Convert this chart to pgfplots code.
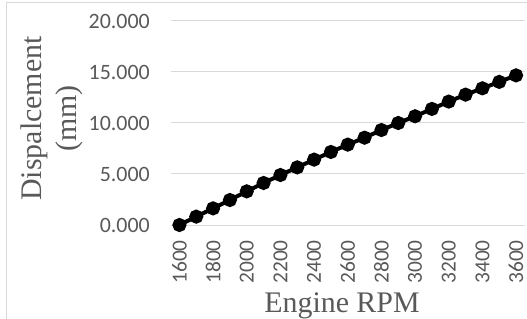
\documentclass[border=0pt]{standalone}
\usepackage{fontspec}
\setmainfont{Carlito}
\newfontfamily\timesf{Liberation Serif}
\usepackage{pgfplots}
\pgfplotsset{compat=1.18}
\definecolor{gridgray}{HTML}{D9D9D9}
\definecolor{txtgray}{HTML}{595959}
\begin{document}
\begin{tikzpicture}
\useasboundingbox (0,0) rectangle (527bp,319bp);
\draw[gridgray, line width=1bp] (6.5bp,-2bp) -- (6.5bp,316bp) -- (530bp,316bp);
\begin{axis}[
  at={(171bp,94bp)}, anchor=south west,
  scale only axis, width=353.5bp, height=204bp,
  xmin=1550, xmax=3650, ymin=0, ymax=20,
  xtick={1600,1800,...,3600},
  ytick={0,5,10,15,20},
  ymajorgrids, major grid style={gridgray, line width=1bp},
  axis line style={draw=none},
  major tick length=0pt,
  /pgf/number format/assume math mode=true,
  xticklabel shift=15bp,
  yticklabel shift=21bp,
  xticklabel style={/pgf/number format/1000 sep={}, rotate=90, anchor=east, inner sep=0pt, font=\fontsize{21.5}{21.5}\selectfont, text=txtgray},
  yticklabel style={/pgf/number format/fixed, /pgf/number format/fixed zerofill, /pgf/number format/precision=3, anchor=east, inner sep=0pt, font=\fontsize{22}{22}\selectfont, text=txtgray},
  xlabel={Engine RPM},
  ylabel={Dispalcement\\(mm)},
  every axis x label/.style={at={(rel axis cs:0.4837,-0.395)}, anchor=center, font=\timesf\fontsize{30}{34}\selectfont, text=txtgray},
  every axis y label/.style={at={(rel axis cs:-0.3366,0.522)}, anchor=center, rotate=90, align=center, font=\timesf\fontsize{30}{35}\selectfont, text=txtgray},
]
\addplot[black, line width=4bp, mark=*, mark size=5bp, mark options={solid, fill=black}] coordinates {
(1600,0) (1700,0.82) (1800,1.63) (1900,2.45) (2000,3.30) (2100,4.12)
(2200,4.90) (2300,5.65) (2400,6.41) (2500,7.16) (2600,7.88) (2700,8.56)
(2800,9.31) (2900,10.00) (3000,10.66) (3100,11.38) (3200,12.10) (3300,12.78)
(3400,13.40) (3500,14.03) (3600,14.67)
};
\end{axis}
\end{tikzpicture}
\end{document}
